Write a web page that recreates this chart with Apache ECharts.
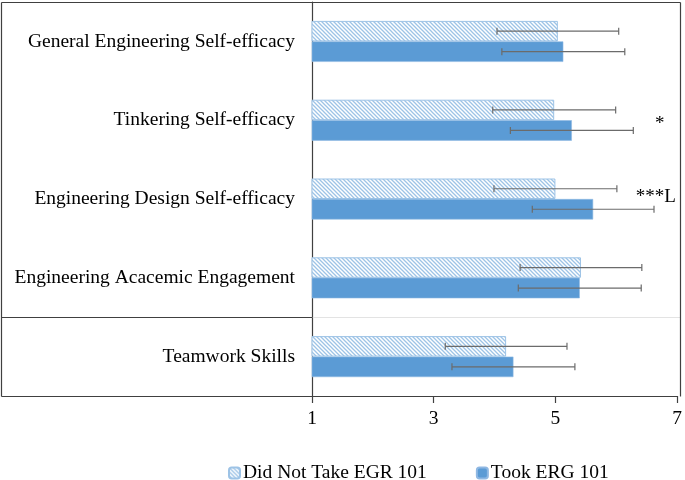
<!DOCTYPE html>
<html><head><meta charset="utf-8">
<script src="https://cdn.jsdelivr.net/npm/echarts@6/dist/echarts.min.js"></script>
<style>html,body{margin:0;padding:0;background:#fff}#c{width:685px;height:480px}</style>
</head><body><div id="c"></div>
<script>
const categories = ['General Engineering Self-efficacy','Tinkering Self-efficacy','Engineering Design Self-efficacy','Engineering Acacemic Engagement','Teamwork Skills'];
const didNotTake = [5.04, 4.98, 5.00, 5.42, 4.19];
const didNotTakeSD = [1.00, 1.01, 1.01, 1.00, 1.00];
const took = [5.13, 5.27, 5.62, 5.40, 4.31];
const tookSD = [1.01, 1.01, 1.00, 1.01, 1.01];
const annotations = ['', '*', '***L', '', ''];
const xTicks = [1, 3, 5, 7];
const seriesNames = ['Did Not Take EGR 101', 'Took ERG 101'];

const FONT = '"Liberation Serif","Times New Roman",serif';
const BAR_W = 20.5;
const GRID = {left: 312, right: 5, top: 2, bottom: 84};
const W = 685, H = 480;
const LINE = '#404040';

const pc = document.createElement('canvas');
pc.width = 4; pc.height = 4;
const px = pc.getContext('2d');
px.fillStyle = '#ffffff'; px.fillRect(0,0,4,4);
px.strokeStyle = '#9dc3e6'; px.lineWidth = 1.3;
px.beginPath();
px.moveTo(-1,-1); px.lineTo(5,5);
px.moveTo(-1,3); px.lineTo(1,5);
px.moveTo(3,-1); px.lineTo(5,1);
px.stroke();
const hatch = {image: pc, repeat: 'repeat'};

const errData = [];
categories.forEach((c,i)=>{
  errData.push([i, didNotTake[i], didNotTakeSD[i], 0]);
  errData.push([i, took[i], tookSD[i], 1]);
});
const annData = annotations.map((a,i)=>[i, a]);

// decorative frame around labels and plot
const L = 1.5, T = 2.5, R = W - GRID.right + 0.5, B = H - GRID.bottom + 0.5, AX = GRID.left + 0.5;
const sepY = Math.round(GRID.top + (H - GRID.top - GRID.bottom) * 4 / 5) + 0.5;
const frameStyle = {stroke: LINE, lineWidth: 1.2};
const frame = [
  [L, T, R, T], [R, T, R, B], [L, T, L, B], [L, B, AX, B], [L, sepY, AX, sepY]
].map(s => ({type: 'line', silent: true, z: 10,
  shape: {x1: s[0], y1: s[1], x2: s[2], y2: s[3]}, style: frameStyle}));
frame.push({type: 'line', silent: true, z: 1,
  shape: {x1: AX, y1: sepY, x2: R, y2: sepY}, style: {stroke: '#e3e3e3', lineWidth: 1}});

const chart = echarts.init(document.getElementById('c'));
chart.setOption({
  animation: false,
  grid: GRID,
  graphic: frame,
  legend: {
    left: 228, top: 463, padding: 0, itemWidth: 11, itemHeight: 11, itemGap: 49,
    textStyle: {fontFamily: FONT, fontSize: 19.5, color: '#000', padding: [0,0,0,-2]},
    data: seriesNames
  },
  xAxis: {
    type: 'value', min: 1, max: 7, interval: 2,
    axisLine: {show: true, lineStyle: {color: LINE, width: 1.2}},
    axisTick: {show: true, length: 7, lineStyle: {color: LINE, width: 1.2}},
    splitLine: {show: false},
    axisLabel: {fontFamily: FONT, fontSize: 19.5, color: '#000', margin: 13,
      formatter: v => xTicks.includes(v) ? String(v) : ''}
  },
  yAxis: {
    type: 'category', data: categories, inverse: true,
    axisLine: {show: true, lineStyle: {color: LINE, width: 1.2}},
    axisTick: {show: false},
    axisLabel: {fontFamily: FONT, fontSize: 19.5, color: '#000', margin: 17},
    splitLine: {show: false}
  },
  series: [
    {name: seriesNames[0], type: 'bar', data: didNotTake, barWidth: BAR_W, barGap: '0%',
      itemStyle: {color: hatch, borderColor: '#9dc3e6', borderWidth: 1}},
    {name: seriesNames[1], type: 'bar', data: took, barWidth: BAR_W, barGap: '0%',
      itemStyle: {color: '#5b9bd5', borderColor: '#8fb8e3', borderWidth: 0.6}},
    {type: 'custom', data: errData, z: 5, silent: true,
      renderItem: (params, api) => {
        const cat = api.value(0), m = api.value(1), sd = api.value(2), s = api.value(3);
        const base = api.coord([m, cat]);
        const y = base[1] + (s === 0 ? -1 : 1) * BAR_W / 2;
        const x0 = api.coord([m - sd, cat])[0], x1 = api.coord([m + sd, cat])[0];
        const st = {stroke: '#6b6b6b', lineWidth: 1.2};
        return {type: 'group', children: [
          {type: 'line', shape: {x1: x0, y1: y, x2: x1, y2: y}, style: st},
          {type: 'line', shape: {x1: x0, y1: y-3.5, x2: x0, y2: y+3.5}, style: st},
          {type: 'line', shape: {x1: x1, y1: y-3.5, x2: x1, y2: y+3.5}, style: st}
        ]};
      }},
    {type: 'custom', data: annData, z: 6, silent: true,
      renderItem: (params, api) => {
        const cat = api.value(0);
        const txt = annotations[cat];
        if (!txt) return null;
        const p = api.coord([6.65, cat]);
        const single = txt === '*';
        return {type: 'text', x: p[0] + (single ? 4 : 0), y: p[1] + (single ? 4 : -2),
          style: {text: txt, font: '19px ' + FONT, fill: '#000', align: 'center', verticalAlign: 'middle'}};
      }}
  ]
});
</script></body></html>
